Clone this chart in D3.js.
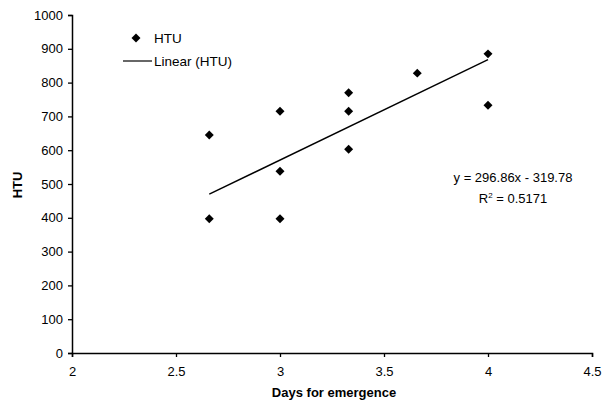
<!DOCTYPE html>
<html>
<head>
<meta charset="utf-8">
<script src="https://cdn.jsdelivr.net/npm/d3@7"></script>
<style>
  body { margin: 0; background: #fff; }
  text { font-family: "Liberation Sans", Arial, sans-serif; fill: #000; }
</style>
</head>
<body>
<svg width="602" height="406"></svg>
<script>
var days = [2.66, 2.66, 3, 3, 3, 3.33, 3.33, 3.33, 3.66, 4, 4];
var htu = [645, 397, 715, 538, 397, 770, 715, 603, 828, 885, 733];
var slope = 296.86, intercept = -319.78, r2 = 0.5171;
var xTicks = [2, 2.5, 3, 3.5, 4, 4.5];
var yTicks = [0, 100, 200, 300, 400, 500, 600, 700, 800, 900, 1000];

var svg = d3.select("svg");

var x = d3.scaleLinear().domain([2, 4.5]).range([72, 592]);
var y = d3.scaleLinear().domain([0, 1000]).range([353, 15]);

// axes
var xAxis = svg.append("g")
    .attr("transform", "translate(0," + y(0) + ")")
    .call(d3.axisBottom(x).tickValues(xTicks).tickSize(4).tickPadding(10)
      .tickFormat(function(d) { return d; }));
var yAxis = svg.append("g")
    .attr("transform", "translate(" + x(2) + ",0)")
    .call(d3.axisLeft(y).tickValues(yTicks).tickSize(4).tickPadding(5)
      .tickFormat(d3.format("d")));

[xAxis, yAxis].forEach(function(a) {
  a.select(".domain").attr("stroke", "#000").attr("stroke-width", 1.5);
  a.selectAll(".tick line").attr("stroke", "#000").attr("stroke-width", 1.3);
  a.selectAll(".tick text").style("font-size", "13px").attr("fill", "#000")
    .style("font-family", "'Liberation Sans', Arial, sans-serif");
});

// trend line
var xs = d3.extent(days);
svg.append("line")
    .attr("x1", x(xs[0])).attr("y1", y(slope * xs[0] + intercept))
    .attr("x2", x(xs[1])).attr("y2", y(slope * xs[1] + intercept))
    .attr("stroke", "#000").attr("stroke-width", 1.4);

// points
var diamond = d3.symbol().type(d3.symbolSquare).size(40);
svg.append("g").selectAll("path")
    .data(days)
    .enter().append("path")
      .attr("d", diamond)
      .attr("transform", function(d, i) {
        return "translate(" + x(d) + "," + y(htu[i]) + ") rotate(45)";
      })
      .attr("fill", "#000");

// legend
svg.append("path").attr("d", diamond)
    .attr("transform", "translate(136,38) rotate(45)").attr("fill", "#000");
svg.append("text").attr("x", 154).attr("y", 43).style("font-size", "13.5px").text("HTU");
svg.append("line").attr("x1", 123).attr("x2", 152).attr("y1", 61).attr("y2", 61)
    .attr("stroke", "#000").attr("stroke-width", 1.2);
svg.append("text").attr("x", 154).attr("y", 66).style("font-size", "13.5px").text("Linear (HTU)");

// equation
svg.append("text").attr("x", 513).attr("y", 182).attr("text-anchor", "middle")
    .style("font-size", "13px").text("y = 296.86x - 319.78");
var rt = svg.append("text").attr("x", 513).attr("y", 203).attr("text-anchor", "middle")
    .style("font-size", "13px");
rt.append("tspan").text("R");
rt.append("tspan").attr("dy", -5).style("font-size", "8px").text("2");
rt.append("tspan").attr("dy", 5).text(" = " + r2);

// axis titles
svg.append("text").attr("x", 334).attr("y", 397).attr("text-anchor", "middle")
    .style("font-size", "13px").style("font-weight", "bold").text("Days for emergence");
svg.append("text").attr("transform", "translate(22,185) rotate(-90)")
    .attr("text-anchor", "middle")
    .style("font-size", "13px").style("font-weight", "bold").text("HTU");
</script>
</body>
</html>
